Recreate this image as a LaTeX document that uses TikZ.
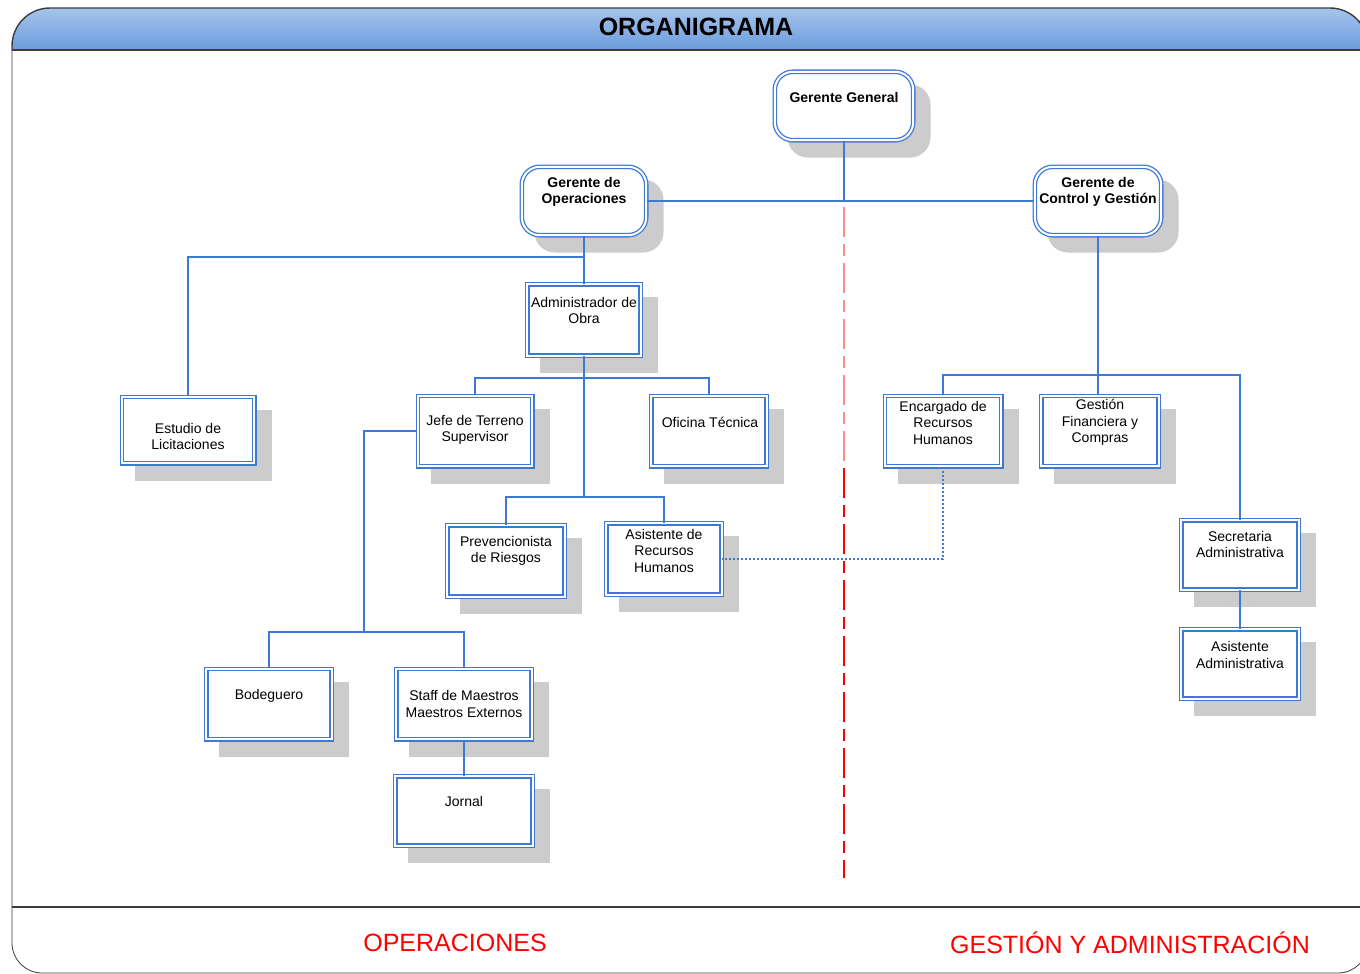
\documentclass[tikz,border=0pt]{standalone}
\usepackage{fontspec}
\setmainfont{Liberation Sans}
\usetikzlibrary{shadows}
\definecolor{boxblue}{RGB}{62,121,214}
\definecolor{shadowgray}{RGB}{204,204,204}
\definecolor{hdtop}{RGB}{166,196,236}
\definecolor{hdbot}{RGB}{108,155,220}
\definecolor{framegray}{RGB}{60,60,60}
\definecolor{divred}{RGB}{255,0,0}
\begin{document}
\begin{tikzpicture}[x=1pt,y=-1pt,
  orgbox/.style={draw=boxblue, line width=1.3pt, double=white, double distance=2pt,
    fill=white, inner sep=0pt,
    drop shadow={shadow xshift=15pt, shadow yshift=-15pt, fill=shadowgray,
      draw=shadowgray, line width=4.6pt, opacity=1}},
  mgrbox/.style={orgbox, rounded corners=18pt},
  lbl/.style={font=\fontsize{14}{16.5}\selectfont, align=center, inner sep=0pt},
  mgrlbl/.style={lbl, font=\bfseries\fontsize{14}{16.5}\selectfont},
  conn/.style={draw=boxblue, line width=1.8pt},
  dotconn/.style={draw=boxblue, line width=1.8pt, dash pattern=on 2pt off 2pt},
  divider/.style={line width=2.4pt, dash pattern=on 30pt off 7pt on 12pt off 7pt},
  section/.style={font=\fontsize{25}{30}\selectfont, text=divred, inner sep=0pt}]
\useasboundingbox (0,0) rectangle (1360,974);
\clip (0,0) rectangle (1360,974);

% frame with blue header band
\path[fill=white] (12,50) [rounded corners=30pt] -- (12,973) -- (1368,973) [sharp corners] -- (1368,50) -- cycle;
\shade[top color=hdtop, bottom color=hdbot] (12,50) [rounded corners=38pt] -- (12,8) -- (1368,8) [sharp corners] -- (1368,50) -- cycle;
\draw[framegray, line width=1.4pt] (12,50) [rounded corners=38pt] -- (12,8) -- (1368,8) -- (1368,50);
\draw[framegray, line width=0.8pt] (12,50) [rounded corners=30pt] -- (12,973) -- (1368,973) -- (1368,50);
\draw[framegray, line width=2pt] (12,50) -- (1368,50);
\draw[framegray, line width=2pt] (12,907) -- (1368,907);
\node[font=\bfseries\fontsize{25}{30}\selectfont, inner sep=0pt] (title) at (696,27) {ORGANIGRAMA};

% section labels
\node[section] (ops) at (455,943) {OPERACIONES};
\node[section] (ga) at (1130,943) {GESTIÓN Y ADMINISTRACIÓN};

% boxes
\node[mgrbox, minimum width=138.4pt, minimum height=68.4pt] (gg) at (844,106) {};
\node[mgrbox, minimum width=124.4pt, minimum height=68.4pt] (go) at (584,201) {};
\node[mgrbox, minimum width=126.4pt, minimum height=68.4pt] (gc) at (1098,201) {};
\node[orgbox, minimum width=113.4pt, minimum height=71.4pt] (adm) at (584,320) {};
\node[orgbox, minimum width=132.4pt, minimum height=66.4pt] (est) at (188,430) {};
\node[orgbox, minimum width=114.4pt, minimum height=70.4pt] (jt) at (475,431) {};
\node[orgbox, minimum width=115.4pt, minimum height=70.4pt] (ot) at (709,431) {};
\node[orgbox, minimum width=116.4pt, minimum height=70.4pt] (enc) at (943,431) {};
\node[orgbox, minimum width=117.4pt, minimum height=70.4pt] (gf) at (1100,431) {};
\node[orgbox, minimum width=117.4pt, minimum height=71.4pt] (pr) at (506,561) {};
\node[orgbox, minimum width=115.4pt, minimum height=71.4pt] (arh) at (664,559) {};
\node[orgbox, minimum width=117.4pt, minimum height=69.4pt] (sec) at (1240,555) {};
\node[orgbox, minimum width=117.4pt, minimum height=69.4pt] (aad) at (1240,664) {};
\node[orgbox, minimum width=125.4pt, minimum height=70.4pt] (bod) at (269,704) {};
\node[orgbox, minimum width=135.4pt, minimum height=70.4pt] (stf) at (464,704) {};
\node[orgbox, minimum width=137.4pt, minimum height=69.4pt] (jor) at (464,811) {};

% box texts
\node[mgrlbl] (gg-t) at (844,97) {Gerente General};
\node[mgrlbl] (go-t) at (584,192) {Gerente de\\Operaciones};
\node[mgrlbl] (gc-t) at (1098,192) {Gerente de\\Control y Gestión};
\node[lbl] (adm-t) at (584,310.5) {Administrador de\\Obra};
\node[lbl] (est-t) at (188,436.5) {Estudio de\\Licitaciones};
\node[lbl] (jt-t) at (475,430) {Jefe de Terreno\\Supervisor};
\node[lbl] (ot-t) at (710,422) {Oficina Técnica};
\node[lbl] (enc-t) at (943,422.5) {Encargado de\\Recursos\\Humanos};
\node[lbl] (gf-t) at (1100,422.5) {Gestión\\Financiera y\\Compras};
\node[lbl] (pr-t) at (506,551) {Prevencionista\\de Riesgos};
\node[lbl] (arh-t) at (664,550.5) {Asistente de\\Recursos\\Humanos};
\node[lbl] (sec-t) at (1240,544.5) {Secretaria\\Administrativa};
\node[lbl] (aad-t) at (1240,655) {Asistente\\Administrativa};
\node[lbl] (bod-t) at (269,696) {Bodeguero};
\node[lbl] (stf-t) at (464,704) {Staff de Maestros\\Maestros Externos};
\node[lbl] (jor-t) at (464,801) {Jornal};

% bus junctions
\coordinate (bus1) at (584,257);
\coordinate (bus2) at (584,378);
\coordinate (bus3) at (584,497);
\coordinate (bus4) at (364,632);
\coordinate (bus5) at (1098,375);

% reporting lines
\draw[conn] (gg.south) -- (gg.south |- go.east);
\draw[conn] (go.east) -- (gc.west);
\draw[conn] (go.south) -- (bus1) -| (est.north);
\draw[conn] (bus1) -- (adm.north);
\draw[conn] (adm.south) -- (bus2);
\draw[conn] (jt.north) |- (bus2) -| (ot.north);
\draw[conn] (bus2) -- (bus3);
\draw[conn] (pr.north) |- (bus3) -| (arh.north);
\draw[conn] (jt.west) -| (bus4);
\draw[conn] (bod.north) |- (bus4) -| (stf.north);
\draw[conn] (stf.south) -- (jor.north);
\draw[conn] (gc.south) -- (gc.south |- gf.north);
\draw[conn] (enc.north) |- (bus5) -| (sec.north);
\draw[conn] (sec.south) -- (aad.north);
\draw[dotconn] (enc.south) |- (arh.east);

% division between the two areas
\coordinate (div1) at (844,207);
\coordinate (div2) at (844,468);
\coordinate (div3) at (844,878);
\draw[divider, draw=divred!45] (div1) -- (div2);
\draw[divider, draw=divred, line width=2pt] (div2) -- (div3);
\end{tikzpicture}
\end{document}
